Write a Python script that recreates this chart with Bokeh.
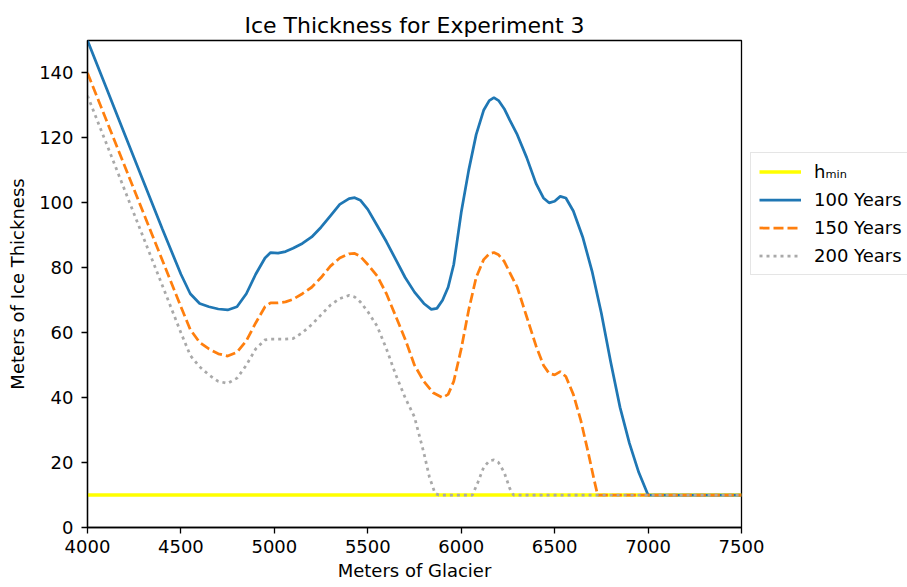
from bokeh.plotting import figure
from bokeh.models import Range1d, Legend, LegendItem, FixedTicker
from bokeh.embed import file_html
from bokeh.resources import INLINE

FONT = "DejaVu Sans"

# h_min line
hmin_x = [4000, 7500]
hmin_y = [10, 10]

# 100 Years
x100 = [4000, 4100, 4200, 4300, 4400, 4500, 4550, 4600, 4650, 4700, 4750, 4800, 4850, 4900,
        4950, 4980, 5020, 5060, 5100, 5150, 5200, 5250, 5300, 5350, 5400, 5430, 5460, 5500,
        5550, 5600, 5650, 5700, 5750, 5800, 5840, 5870, 5900, 5930, 5960, 6000, 6040, 6080,
        6120, 6150, 6175, 6200, 6230, 6260, 6300, 6350, 6400, 6440, 6470, 6500, 6530, 6560,
        6600, 6650, 6700, 6750, 6800, 6850, 6900, 6950, 7000, 7500]
y100 = [150, 135.5, 121, 106.5, 92, 78, 72, 69, 68, 67.3, 67, 68, 72, 78,
        83, 84.7, 84.5, 85, 86, 87.5, 89.5, 92.5, 96, 99.5, 101.3, 101.6, 100.8, 98,
        93, 88, 82.5, 77, 72.5, 69, 67.2, 67.5, 70, 74, 81, 97, 110, 121,
        128.5, 131.5, 132.4, 131.5, 129, 125.5, 121, 114, 106, 101.5, 100, 100.5, 102, 101.5,
        97.5, 89.5, 79, 66, 51, 37, 26, 17, 10, 10]

# 150 Years
x150 = [4000, 4100, 4200, 4300, 4400, 4500, 4550, 4600, 4650, 4700, 4750, 4800, 4850, 4900,
        4950, 4980, 5020, 5060, 5100, 5150, 5200, 5250, 5300, 5350, 5400, 5430, 5460, 5500,
        5550, 5600, 5650, 5700, 5750, 5800, 5850, 5900, 5930, 5960, 6000, 6040, 6080, 6120,
        6150, 6175, 6200, 6230, 6260, 6300, 6350, 6400, 6440, 6470, 6500, 6530, 6560, 6600,
        6640, 6680, 6710, 6730, 7500]
y150 = [140, 125.6, 111.2, 96.8, 82.4, 68, 61, 57, 55, 53.5, 52.8, 54, 57.5, 63,
        68, 69.2, 69.2, 69.5, 70.3, 72, 74, 77, 80.5, 83, 84.3, 84.4, 83.5, 81,
        77.5, 72, 65, 58, 50, 45, 41.5, 40, 41, 45, 55, 67, 77, 82.5,
        84.3, 84.7, 84, 82, 78.5, 74, 65, 56, 50, 47.5, 47, 48, 46.5, 41,
        33, 23, 15, 10, 10]

# 200 Years
x200 = [4000, 4100, 4200, 4300, 4400, 4500, 4550, 4600, 4650, 4700, 4750, 4800, 4850, 4900,
        4950, 4980, 5050, 5100, 5150, 5200, 5250, 5300, 5350, 5400, 5430, 5460, 5500, 5550,
        5600, 5650, 5700, 5750, 5800, 5830, 5860, 5880, 6060, 6090, 6120, 6150, 6175, 6200,
        6230, 6260, 6280, 7500]
y200 = [133, 118.4, 103.8, 89.2, 74.6, 60, 53, 49.5, 47, 45, 44.4, 46, 50, 55,
        57.8, 58, 58, 58.2, 60, 62.5, 65.5, 68.5, 70.5, 71.5, 71, 69.5, 66.5, 62,
        55, 47, 40, 34, 23, 15.5, 10.5, 10, 10, 14, 18.5, 20.5, 20.8, 20,
        17, 12, 10, 10]

x_ticks = [4000, 4500, 5000, 5500, 6000, 6500, 7000, 7500]
y_ticks = [0, 20, 40, 60, 80, 100, 120, 140]

p = figure(width=907, height=587, output_backend="svg", toolbar_location=None,
           x_range=Range1d(4000, 7500), y_range=Range1d(0, 150),
           title="Ice Thickness for Experiment 3",
           x_axis_label="Meters of Glacier", y_axis_label="Meters of Ice Thickness",
           min_border_left=87, min_border_right=166, min_border_top=40, min_border_bottom=60)
p.frame_width = 654
p.frame_height = 487

p.title.align = "center"
p.title.text_font = FONT
p.title.text_font_size = "22px"
p.title.text_font_style = "normal"
p.title.text_color = "#000000"
p.title.standoff = 6

p.xgrid.visible = False
p.ygrid.visible = False
p.outline_line_color = "#000000"
p.outline_line_width = 1.3
p.outline_line_alpha = 1

for ax in (p.xaxis[0], p.yaxis[0]):
    ax.major_tick_in = 0
    ax.major_tick_out = 6
    ax.major_tick_line_width = 1.3
    ax.axis_line_width = 1.3
    ax.minor_tick_line_color = None
    ax.axis_line_color = "#000000"
    ax.major_tick_line_color = "#000000"
    ax.major_label_text_font = FONT
    ax.major_label_text_font_size = "18px"
    ax.major_label_text_color = "#000000"
    ax.axis_label_text_font = FONT
    ax.axis_label_text_font_size = "18px"
    ax.axis_label_text_font_style = "normal"
    ax.axis_label_text_color = "#000000"
p.xaxis.major_label_standoff = 6
p.xaxis.axis_label_standoff = 4
p.yaxis.major_label_standoff = 8
p.yaxis.axis_label_standoff = 8
p.xaxis.ticker = FixedTicker(ticks=x_ticks)
p.yaxis.ticker = FixedTicker(ticks=y_ticks)

r_h = p.line(hmin_x, hmin_y, line_color="#ffff00", line_width=3.6)
r1 = p.line(x100, y100, line_color="#1f77b4", line_width=2.75)
r2 = p.line(x150, y150, line_color="#ff7f0e", line_width=2.75, line_dash="10 4")
r3 = p.line(x200, y200, line_color="#a9a9a9", line_width=2.75, line_dash="3 4")

legend = Legend(items=[
    LegendItem(label="hₘᵢₙ", renderers=[r_h]),
    LegendItem(label="100 Years", renderers=[r1]),
    LegendItem(label="150 Years", renderers=[r2]),
    LegendItem(label="200 Years", renderers=[r3]),
], location=(9, 252))
legend.label_text_font = FONT
legend.label_text_font_size = "18px"
legend.label_text_color = "#000000"
legend.border_line_color = "#cccccc"
legend.border_line_width = 1.3
legend.background_fill_alpha = 1
legend.glyph_width = 42
legend.glyph_height = 21
legend.label_height = 21
legend.label_standoff = 13
legend.spacing = 7
legend.padding = 8
legend.margin = 0
p.add_layout(legend, "right")

open("out.html", "w").write(file_html(p, INLINE))
